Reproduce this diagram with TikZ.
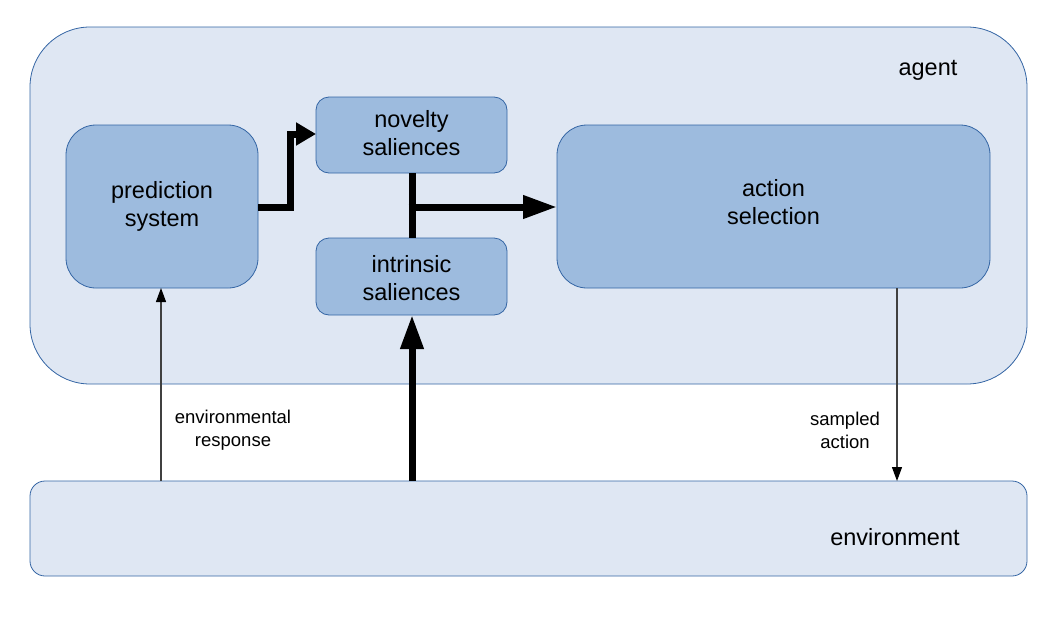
\documentclass[tikz,border=0pt]{standalone}
\usepackage{fontspec}
\setmainfont{Liberation Sans}
\usetikzlibrary{arrows.meta}
\definecolor{outerfill}{HTML}{DFE7F3}
\definecolor{innerfill}{HTML}{9DBBDE}
\definecolor{edge}{HTML}{3465A4}
\tikzset{
  outerbox/.style={draw=edge, line width=0.8pt, fill=outerfill},
  innerbox/.style={draw=edge, line width=0.8pt, fill=innerfill, inner sep=0pt, outer sep=0pt},
  boxtext/.style={align=center, font=\fontsize{23.5}{28}\selectfont},
  thickarrow/.style={line width=7pt, -{Triangle[length=34pt,width=22pt]}},
  thinarrow/.style={line width=1.2pt, draw=black!75, -{Triangle[length=14pt,width=10pt,color=black]}},
  smalllabel/.style={font=\fontsize{18.5}{23}\selectfont, align=center},
  biglabel/.style={font=\fontsize{23.5}{28}\selectfont}
}
\begin{document}
\begin{tikzpicture}[x=1pt,y=-1pt]
\useasboundingbox (0,0) rectangle (1058,624);
% agent
\node[outerbox, rounded corners=60pt, minimum width=997pt, minimum height=357pt, inner sep=0pt, outer sep=0pt] (agent) at (528.5,205.5) {};
\node[biglabel] (agentlbl) at (928,70) {agent};
% environment
\node[outerbox, rounded corners=15pt, minimum width=997pt, minimum height=95pt, inner sep=0pt, outer sep=0pt] (env) at (528.5,528.5) {};
\node[biglabel] (envlbl) at (895,537) {environment};
% inner boxes
\node[innerbox, rounded corners=30pt, minimum width=192pt, minimum height=163pt] (pred) at (162,206.5) {};
\node[boxtext] (predlbl) at ([yshift=0pt]pred.center) {prediction\\system};
\node[innerbox, rounded corners=13pt, minimum width=191pt, minimum height=76pt] (nov) at (411.5,135) {};
\node[boxtext] (novlbl) at ([yshift=2pt]nov.center) {novelty\\saliences};
\node[innerbox, rounded corners=13pt, minimum width=191pt, minimum height=77pt] (intr) at (411.5,276.5) {};
\node[boxtext] (intrlbl) at ([yshift=-1.5pt]intr.center) {intrinsic\\saliences};
\node[innerbox, rounded corners=30pt, minimum width=433pt, minimum height=163pt] (act) at (773.5,206.5) {};
\node[boxtext] (actlbl) at ([yshift=4.5pt]act.center) {action\\selection};
% connectors
\draw[line width=7pt, -{Triangle[length=20pt,width=22pt]}] (pred.east |- 0,207) -| (290,134) -- (nov.west |- 0,134);
\coordinate (junc) at (412,207);
\draw[line width=7pt] (nov.south -| junc) -- (intr.north -| junc);
\draw[thickarrow] ([xshift=-3.5pt]junc) -- (act.west |- junc);
\draw[thickarrow] (env.north -| junc) -- (intr.south -| junc);
\draw[thinarrow] (env.north -| 161,0) -- (pred.south -| 161,0);
\draw[thinarrow] (act.south -| 897,0) -- (env.north -| 897,0);
% labels
\node[smalllabel] (resp) at (233,430) {environmental\\response};
\node[smalllabel] (samp) at (845,430) {sampled\\action};
\end{tikzpicture}
\end{document}
